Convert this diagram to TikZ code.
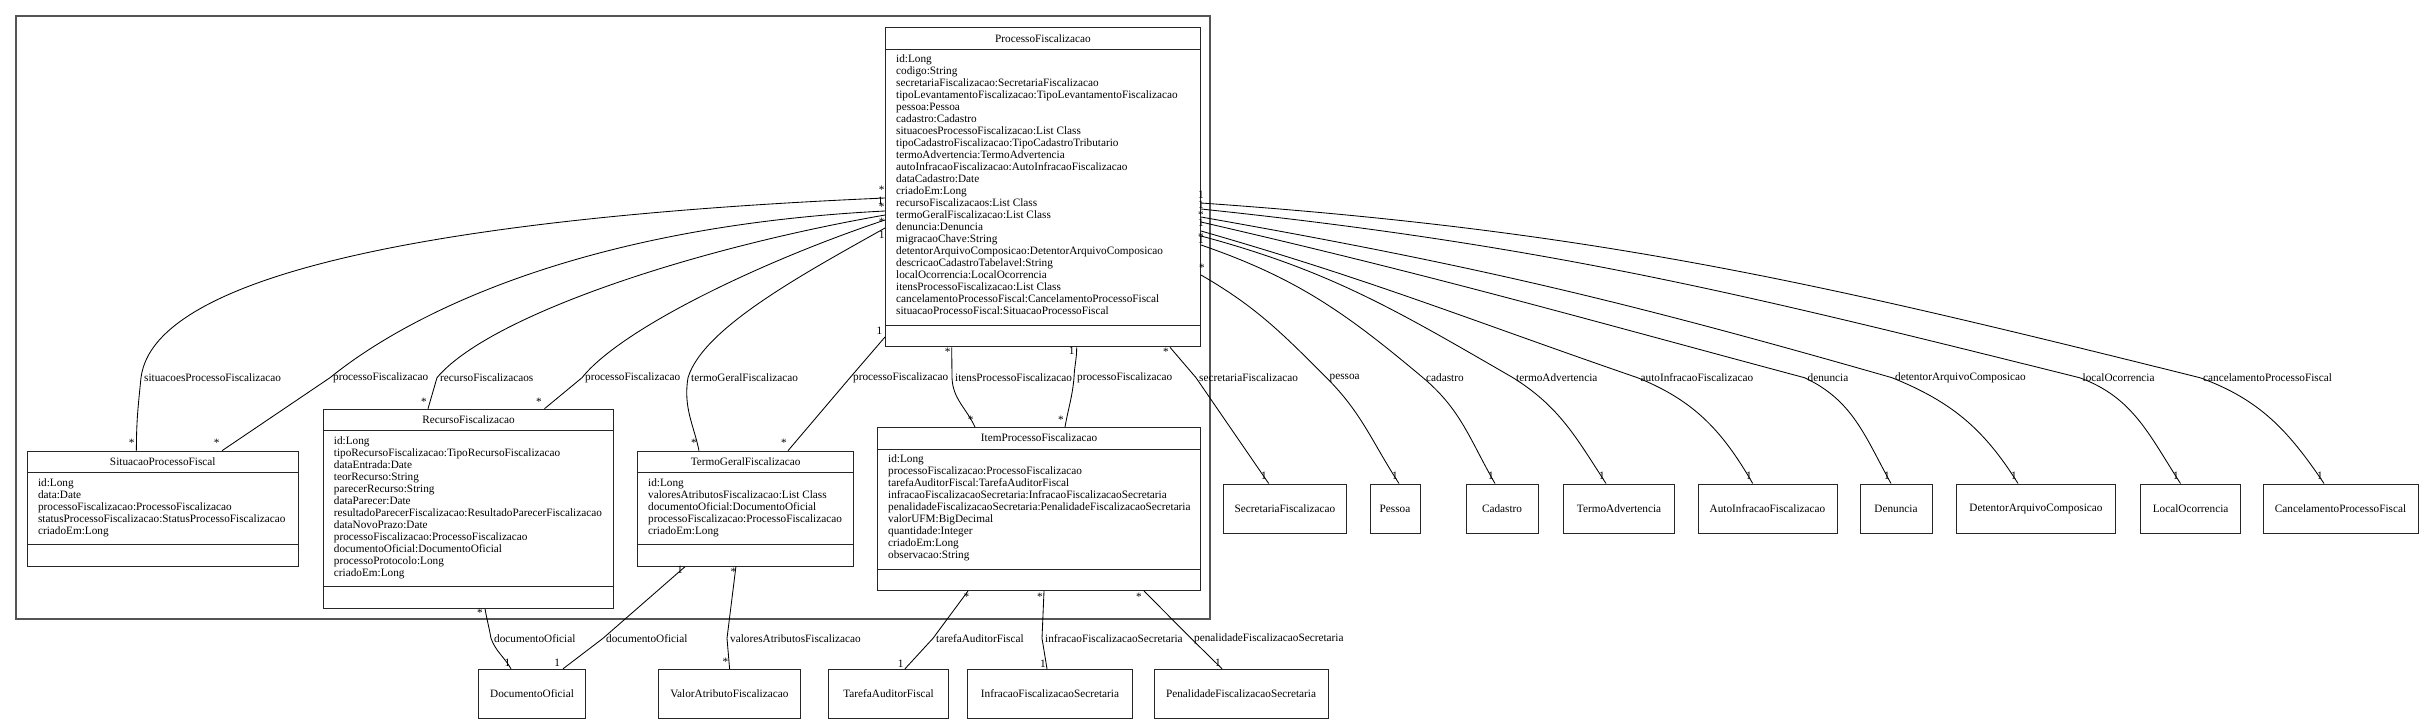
\documentclass[tikz,border=0pt]{standalone}
\usepackage{fontspec}
\setmainfont{Liberation Serif}
\definecolor{framegrey}{HTML}{555555}
\definecolor{boxink}{HTML}{262626}
\tikzset{
  umlfont/.style={font=\fontsize{11.25}{12}\selectfont},
  classframe/.style={draw=boxink, line width=1pt, inner sep=0pt},
  smallbox/.style={draw=boxink, line width=1pt, umlfont, minimum height=49pt, inner sep=0pt},
  edgelabel/.style={umlfont, anchor=west, inner xsep=3pt, inner ysep=1pt},
  mult/.style={umlfont, inner sep=0pt},
  assoc/.style={line width=0.85pt}
}
\newcommand{\umlclass}[7]{%
  \node[classframe, anchor=north west, minimum width=#4pt,
        minimum height=55pt+12pt*#5] (#1) at (#2,-#3) {};
  \node[umlfont, inner sep=0pt] (#1-title) at ([yshift=-11pt]#1.north) {#6};
  \draw[boxink, line width=1pt] ([yshift=-22pt]#1.north west) -- ([yshift=-22pt]#1.north east);
  \draw[boxink, line width=1pt] ([yshift=22pt]#1.south west) -- ([yshift=22pt]#1.south east);
  \foreach \attr [count=\row from 1] in {#7}{%
    \node[umlfont, anchor=base west, inner sep=0pt] (#1-a\row)
      at ([xshift=11pt, yshift=-23.5pt-12pt*\row]#1.north west) {\attr};}%
}

\begin{document}
\begin{tikzpicture}[x=1pt, y=1pt, umlfont]
  \useasboundingbox (0,0) rectangle (2424,-724);
  \draw[framegrey, line width=1.8pt] (15.8,-15.7) rectangle (1210,-619.3);
  \umlclass{pf}{885}{27.3}{315}{22}{ProcessoFiscalizacao}{id:Long, codigo:String,
    secretariaFiscalizacao:SecretariaFiscalizacao,
    tipoLevantamentoFiscalizacao:TipoLevantamentoFiscalizacao, pessoa:Pessoa,
    cadastro:Cadastro, situacoesProcessoFiscalizacao:List Class,
    tipoCadastroFiscalizacao:TipoCadastroTributario, termoAdvertencia:TermoAdvertencia,
    autoInfracaoFiscalizacao:AutoInfracaoFiscalizacao, dataCadastro:Date, criadoEm:Long,
    recursoFiscalizacaos:List Class, termoGeralFiscalizacao:List Class, denuncia:Denuncia,
    migracaoChave:String, detentorArquivoComposicao:DetentorArquivoComposicao,
    descricaoCadastroTabelavel:String, localOcorrencia:LocalOcorrencia,
    itensProcessoFiscalizacao:List Class,
    cancelamentoProcessoFiscal:CancelamentoProcessoFiscal,
    situacaoProcessoFiscal:SituacaoProcessoFiscal}
  \umlclass{sit}{26.9}{450.7}{270.8}{5}{SituacaoProcessoFiscal}{id:Long, data:Date,
    processoFiscalizacao:ProcessoFiscalizacao,
    statusProcessoFiscalizacao:StatusProcessoFiscalizacao, criadoEm:Long}
  \umlclass{rec}{322.7}{408.7}{290.6}{12}{RecursoFiscalizacao}{id:Long,
    tipoRecursoFiscalizacao:TipoRecursoFiscalizacao, dataEntrada:Date, teorRecurso:String,
    parecerRecurso:String, dataParecer:Date,
    resultadoParecerFiscalizacao:ResultadoParecerFiscalizacao, dataNovoPrazo:Date,
    processoFiscalizacao:ProcessoFiscalizacao, documentoOficial:DocumentoOficial,
    processoProtocolo:Long, criadoEm:Long}
  \umlclass{termo}{637}{450.7}{216.3}{5}{TermoGeralFiscalizacao}{id:Long,
    valoresAtributosFiscalizacao:List Class, documentoOficial:DocumentoOficial,
    processoFiscalizacao:ProcessoFiscalizacao, criadoEm:Long}
  \umlclass{item}{877}{427}{323}{9}{ItemProcessoFiscalizacao}{id:Long,
    processoFiscalizacao:ProcessoFiscalizacao, tarefaAuditorFiscal:TarefaAuditorFiscal,
    infracaoFiscalizacaoSecretaria:InfracaoFiscalizacaoSecretaria,
    penalidadeFiscalizacaoSecretaria:PenalidadeFiscalizacaoSecretaria,
    valorUFM:BigDecimal, quantidade:Integer, criadoEm:Long, observacao:String}
  \foreach \nm/\ttl/\cx/\bw in {secr/SecretariaFiscalizacao/1285/123.4, pes/Pessoa/1395/50,
      cad/Cadastro/1502/72, tadv/TermoAdvertencia/1619/111.6,
      auto/AutoInfracaoFiscalizacao/1767.5/139, den/Denuncia/1896/72,
      det/DetentorArquivoComposicao/2036/158.7, loc/LocalOcorrencia/2190.6/100,
      canc/CancelamentoProcessoFiscal/2340.5/155}{%
    \node[smallbox, minimum width=\bw pt] (\nm) at (\cx,-508.5) {\ttl};}
  \foreach \nm/\ttl/\cx/\bw in {doc/DocumentoOficial/532/107,
      valor/ValorAtributoFiscalizacao/729.3/142, tarefa/TarefaAuditorFiscal/888.6/119.4,
      infr/InfracaoFiscalizacaoSecretaria/1050/165,
      pen/PenalidadeFiscalizacaoSecretaria/1241/174}{%
    \node[smallbox, minimum width=\bw pt] (\nm) at (\cx,-693.8) {\ttl};}
  \foreach \nm/\lx/\ly/\txt in {sitA/141/377.7/situacoesProcessoFiscalizacao,
      sitB/330/377.7/processoFiscalizacao, recA/437/377.7/recursoFiscalizacaos,
      recB/582/377.7/processoFiscalizacao, termoA/688/377.7/termoGeralFiscalizacao,
      termoB/850/377.7/processoFiscalizacao, itemA/952/377.7/itensProcessoFiscalizacao,
      itemB/1074/377.7/processoFiscalizacao, secr/1196/377.7/secretariaFiscalizacao,
      pes/1326.5/377.7/pessoa, cad/1423/377.7/cadastro, tadv/1513/377.7/termoAdvertencia,
      auto/1637.5/377.7/autoInfracaoFiscalizacao, den/1804.5/377.7/denuncia,
      det/1892/377.7/detentorArquivoComposicao, loc/2079.5/377.7/localOcorrencia,
      canc/2200/377.7/cancelamentoProcessoFiscal, doc/491/638.3/documentoOficial,
      tdoc/603/638.3/documentoOficial, valor/727/638.3/valoresAtributosFiscalizacao,
      tarefa/933/638.3/tarefaAuditorFiscal, infr/1042/638.3/infracaoFiscalizacaoSecretaria,
      pen/1191/638.3/penalidadeFiscalizacaoSecretaria}{%
    \node[edgelabel] (l\nm) at (\lx,-\ly) {\txt};}
  \draw[assoc] (pf.west |- 0,-198) .. controls +(-350,-15) and +(15,120) .. (lsitA.west)
    .. controls +(-3,-30) and +(0,30) .. (sit.north -| 136.4,0);
  \draw[assoc] (pf.west |- 0,-211) .. controls +(-300,-15) and +(80,65) .. (lsitB.west)
    -- (sit.north -| 222,0);
  \draw[assoc] (pf.west |- 0,-215) .. controls +(-200,-35) and +(50,60) .. (lrecA.west)
    -- (rec.north -| 428,0);
  \draw[assoc] (pf.west |- 0,-220) .. controls +(-120,-40) and +(40,50) .. (lrecB.west)
    -- (rec.north -| 544.5,0);
  \draw[assoc] (pf.west |- 0,-228) .. controls +(-80,-45) and +(15,50) .. (ltermoA.west)
    .. controls +(-5,-30) and +(-5,25) .. (termo.north -| 699,0);
  \draw[assoc] (pf.west |- 0,-337) -- (ltermoB.west) -- (termo.north -| 788,0);
  \draw[assoc] (pf.south -| 951.7,0) -- (litemA.west) to[out=-88,in=115] (item.north -| 975,0);
  \draw[assoc] (pf.south -| 1076.7,0) to[out=-90,in=88] (litemB.west)
    to[out=-95,in=80] (item.north -| 1065,0);
  \draw[assoc] (pf.south -| 1170,0) -- (lsecr.west) -- (secr.north -| 1268.7,0);
  \foreach \nm/\sy/\oa/\ia/\ob/\ib/\tx in {pes/275/-30/135/-45/123/1399,
      cad/245/-19/140/-40/120/1495, tadv/236/-15/150/-32/123/1606,
      auto/231/-16/161/-22/120/1752.7, den/222/-13/165/-25/119/1891,
      det/217/-10/164/-22/122/2018, loc/209/-6/166/-20/123/2180.5,
      canc/203/-4/166/-20/124/2324}{%
    \draw[assoc] (pf.east |- 0,-\sy) to[out=\oa,in=\ia] (l\nm.west)
      to[out=\ob,in=\ib] (\nm.north -| \tx,0);}
  \draw[assoc] (rec.south -| 485,0) to[out=-80,in=100] (ldoc.west)
    to[out=-70,in=120] (doc.north -| 511,0);
  \draw[assoc] (termo.south -| 685,0) -- (ltdoc.west) -- (doc.north -| 563,0);
  \draw[assoc] (termo.south -| 735.9,0) -- (lvalor.west) -- (valor.north -| 729.6,0);
  \draw[assoc] (item.south -| 968,0) -- (ltarefa.west) -- (tarefa.north -| 905,0);
  \draw[assoc] (item.south -| 1044,0) -- (linfr.west) -- (infr.north -| 1047,0);
  \draw[assoc] (item.south -| 1144,0) -- (lpen.west) -- (pen.north -| 1222,0);
  \foreach \mx/\my/\mm [count=\i] in {881.7/189.8/*, 880.5/201/1, 881.7/206.5/*,
      881.7/221.5/*, 881.7/235/1, 879.3/330.7/1, 1201/195/1, 1201/205/1, 1201/214.5/*,
      1201/223/1, 1201/236.5/*, 1201/240/1, 1202/267.5/*, 947.7/352.2/*, 1071.7/350.7/1,
      1166/352.2/*, 970.7/419.5/*, 1061/419.5/*, 131.7/443.2/*, 216.7/443.2/*,
      424/401.5/*, 539/401.5/*, 694/443.2/*, 784/443.2/*, 480/613.2/*, 680/570/1,
      733.5/571.5/*, 966.4/596.5/*, 1040/596.5/*, 1139/596.5/*, 507.4/662.7/1,
      557.3/662.7/1, 725.5/662.2/*, 900.6/664/1, 1043/664/1, 1218/662.7/1,
      1264/475.7/1, 1395/475.7/1, 1491/475.7/1, 1602/475.7/1, 1749/475.7/1,
      1887/475.7/1, 2014/475.7/1, 2176/475.7/1, 2320/475.7/1}{%
    \node[mult] (m\i) at (\mx,-\my) {\mm};}
\end{tikzpicture}
\end{document}
